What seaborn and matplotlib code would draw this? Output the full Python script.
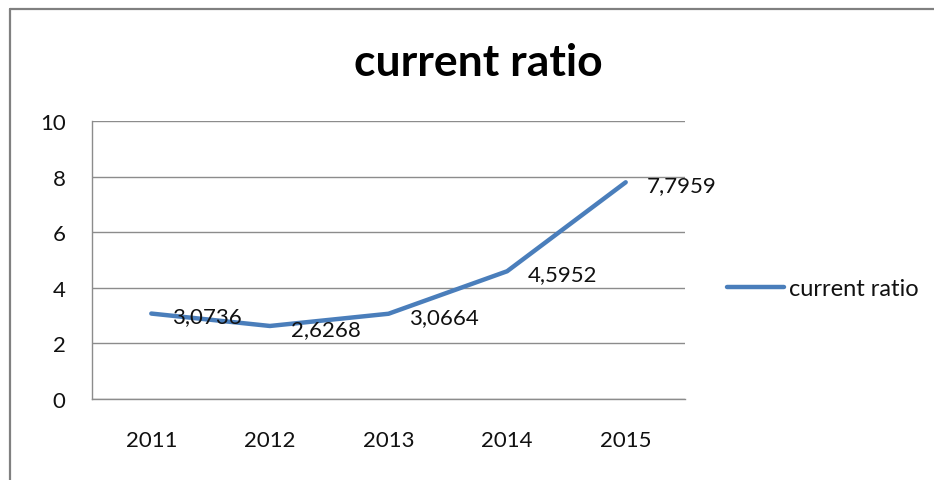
import matplotlib
matplotlib.use('Agg')
import matplotlib.pyplot as plt
from matplotlib.lines import Line2D
import seaborn as sns
import pandas as pd

# data
years = ['2011', '2012', '2013', '2014', '2015']
ratio = [3.0736, 2.6268, 3.0664, 4.5952, 7.7959]
series_name = 'current ratio'

df = pd.DataFrame({'year': years, 'ratio': ratio})

sns.set_style('white')
plt.rcParams['font.family'] = ['Lato', 'DejaVu Sans']

W, H = 934, 481
fig = plt.figure(figsize=(W / 100, H / 100), dpi=100)
fig.patch.set_facecolor('white')

# plot area in pixels: x 92..685, y 122..400
ax = fig.add_axes([92 / W, 1 - 400 / H, (685 - 92) / W, (400 - 122) / H])

sns.lineplot(data=df, x='year', y='ratio', ax=ax, color='#4A7EBB',
             linewidth=3.2, sort=False, label=series_name, legend=False)

ax.set_xlim(-0.5, len(years) - 0.5)
ax.set_ylim(0, 10)
ax.set_yticks(range(0, 11, 2))
ax.set_xlabel('')
ax.set_ylabel('')

# horizontal gridlines
ax.yaxis.grid(True, color='#8c8c8c', linewidth=1.0)
ax.xaxis.grid(False)
ax.set_axisbelow(True)

for s in ['top', 'right']:
    ax.spines[s].set_visible(False)
for s in ['left', 'bottom']:
    ax.spines[s].set_color('#8c8c8c')
    ax.spines[s].set_linewidth(1.0)

ax.tick_params(axis='y', length=0, pad=19, labelsize=16, labelcolor='#111111')
ax.tick_params(axis='x', length=0, pad=22, labelsize=16, labelcolor='#111111')

# data labels to the right of each point, comma decimals
for i, v in enumerate(ratio):
    ax.annotate(f'{v:.4f}'.replace('.', ','), (i, v),
                xytext=(21, -3), textcoords='offset pixels',
                ha='left', va='center', fontsize=16, color='#111111')

# title
fig.text(478 / W, 1 - 63 / H, 'current ratio', ha='center', va='center',
         fontsize=32, fontweight='bold', color='black')

# legend on the right
fig.legend(handles=[Line2D([], [], color='#4A7EBB', linewidth=3.2)],
           labels=[series_name], loc='center left',
           bbox_to_anchor=(706 / W, 1 - 290 / H), frameon=False,
           fontsize=17, handlelength=2.4, handletextpad=0.2,
           labelcolor='#111111')

# outer chart border (only top and left visible in the crop)
fig.add_artist(Line2D([10 / W, 1], [1 - 10 / H, 1 - 10 / H],
                      transform=fig.transFigure, color='#808080', linewidth=1.6))
fig.add_artist(Line2D([10 / W, 10 / W], [0, 1 - 10 / H],
                      transform=fig.transFigure, color='#808080', linewidth=1.6))

fig.savefig('out.png', dpi=100)
